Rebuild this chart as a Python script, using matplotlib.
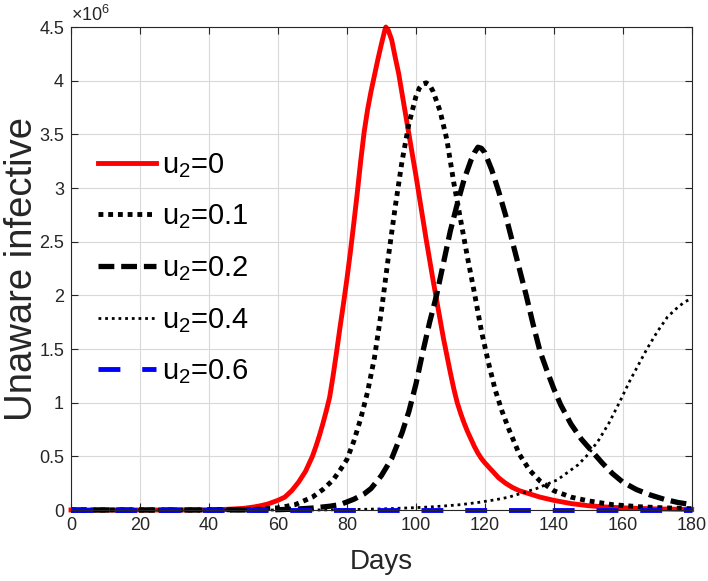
import numpy as np
import matplotlib
matplotlib.use("Agg")
import matplotlib.pyplot as plt
from matplotlib.ticker import FuncFormatter, MultipleLocator

plt.rcParams['font.family'] = ['Liberation Sans', 'DejaVu Sans']
plt.rcParams['mathtext.fontset'] = 'custom'
plt.rcParams['mathtext.rm'] = 'Liberation Sans'

# values (unaware infective, in millions)
days_u0 = [0, 30, 40, 45, 50, 53, 55, 57, 60, 62, 64, 66, 68, 70, 71, 72, 73, 74, 75, 76,
           77, 78, 79, 80, 81, 82, 83, 84, 85, 86, 87, 88, 89, 90, 91, 91.3, 92, 93, 94,
           95, 96, 97, 98, 99, 100, 101, 102, 103, 104, 105, 106, 107, 108, 109, 110, 111,
           112, 113, 114, 115, 116, 117, 118, 119, 120, 122, 124, 126, 128, 130, 133, 136,
           140, 145, 150, 155, 160, 170, 180]
inf_u0 = [0, 0.0, 0.002, 0.006, 0.015, 0.028, 0.04, 0.055, 0.09, 0.12, 0.18, 0.26, 0.36,
          0.5, 0.59, 0.69, 0.8, 0.92, 1.05, 1.25, 1.47, 1.7, 1.92, 2.15, 2.4, 2.67, 2.95,
          3.25, 3.52, 3.73, 3.9, 4.05, 4.2, 4.34, 4.47, 4.5, 4.47, 4.38, 4.22, 4.07, 3.88,
          3.69, 3.5, 3.31, 3.12, 2.92, 2.72, 2.52, 2.33, 2.14, 1.96, 1.78, 1.6, 1.44, 1.28,
          1.13, 1.0, 0.9, 0.81, 0.73, 0.66, 0.59, 0.53, 0.48, 0.44, 0.37, 0.3, 0.25, 0.21,
          0.18, 0.15, 0.12, 0.09, 0.06, 0.04, 0.028, 0.02, 0.01, 0.005]

days_u01 = [0, 40, 50, 55, 60, 65, 70, 73, 76, 78, 80, 82, 84, 86, 88, 90, 92, 94, 96, 98,
            100, 101, 102, 103, 104, 105, 107, 109, 111, 113, 115, 117, 119, 121, 123, 125,
            127, 130, 133, 136, 140, 145, 150, 157, 165, 172, 180]
inf_u01 = [0, 0.0, 0.003, 0.008, 0.02, 0.05, 0.12, 0.19, 0.28, 0.37, 0.47, 0.64, 0.85, 1.1,
           1.42, 1.85, 2.35, 2.82, 3.25, 3.6, 3.85, 3.93, 3.97, 3.98, 3.96, 3.9, 3.72, 3.45,
           3.05, 2.7, 2.35, 2.02, 1.67, 1.38, 1.12, 0.92, 0.75, 0.52, 0.37, 0.27, 0.18,
           0.12, 0.085, 0.05, 0.03, 0.02, 0.012]

days_u02 = [0, 50, 60, 65, 70, 75, 78, 82, 85, 87, 90, 93, 96, 98, 100, 102, 104, 106, 108,
            110, 112, 114, 116, 117, 118, 119, 120, 122, 124, 126, 128, 130, 132, 134, 136,
            138, 140, 142, 145, 148, 151, 154, 157, 160, 164, 168, 172, 176, 180]
inf_u02 = [0, 0.0, 0.003, 0.008, 0.018, 0.035, 0.05, 0.1, 0.15, 0.2, 0.32, 0.48, 0.72, 0.92,
           1.17, 1.47, 1.75, 2.0, 2.3, 2.6, 2.85, 3.08, 3.26, 3.33, 3.38, 3.37, 3.33, 3.17,
           2.97, 2.75, 2.5, 2.25, 2.0, 1.73, 1.48, 1.3, 1.13, 0.98, 0.8, 0.66, 0.55, 0.44,
           0.34, 0.26, 0.19, 0.14, 0.1, 0.07, 0.05]

days_u04 = [0, 70, 80, 90, 100, 105, 110, 113, 118, 123, 127, 131, 135, 138, 141, 144, 147,
            150, 153, 156, 159, 162, 165, 167, 170, 173, 176, 178, 180]
inf_u04 = [0, 0.0, 0.003, 0.01, 0.022, 0.03, 0.042, 0.05, 0.07, 0.095, 0.12, 0.16, 0.2, 0.24,
           0.28, 0.35, 0.42, 0.52, 0.65, 0.81, 1.0, 1.2, 1.38, 1.5, 1.66, 1.8, 1.89, 1.94, 1.97]

days_u06 = [0, 180]
inf_u06 = [0, 0]

labels = ['u$_\\mathregular{2}$=0', 'u$_\\mathregular{2}$=0.1', 'u$_\\mathregular{2}$=0.2',
          'u$_\\mathregular{2}$=0.4', 'u$_\\mathregular{2}$=0.6']

fig = plt.figure(figsize=(7.08, 5.81), dpi=100)
ax = fig.add_axes([0.1003, 0.1222, 0.8767, 0.8313])

ax.plot(days_u0, inf_u0, color=(1, 0, 0), lw=3.5, label=labels[0], clip_on=False,
        solid_joinstyle='round')
ax.plot(days_u01, inf_u01, color='k', lw=3.5, dashes=(1, 1), dash_capstyle='butt',
        label=labels[1], clip_on=False)
ax.plot(days_u02, inf_u02, color='k', lw=3.8, dashes=(3, 1.3), dash_capstyle='butt',
        label=labels[2], clip_on=False)
ax.plot(days_u04, inf_u04, color='k', lw=2.0, dashes=(1, 1.4), dash_capstyle='butt',
        label=labels[3], clip_on=False)
ax.plot(days_u06, inf_u06, color=(0, 0, 1), lw=3.5, dashes=(4.5, 4.5), dash_capstyle='butt',
        label=labels[4], clip_on=False)

ax.set_xlim(0, 180)
ax.set_ylim(0, 4.5)
ax.xaxis.set_major_locator(MultipleLocator(20))
ax.yaxis.set_major_locator(MultipleLocator(0.5))
ax.yaxis.set_major_formatter(FuncFormatter(lambda v, p: '%g' % v))

edge = '#262626'
for s in ax.spines.values():
    s.set_color(edge)
    s.set_linewidth(0.8)
ax.tick_params(direction='in', top=True, right=True, length=5, width=0.8,
               colors=edge, labelsize=13, pad=5)
ax.grid(True, color='#d9d9d9', lw=0.8)
ax.set_axisbelow(True)

ax.text(0.0, 1.005, '$\\times$10$^\\mathregular{6}$', transform=ax.transAxes,
        fontsize=13, color=edge, ha='left', va='bottom')

ax.set_xlabel('Days', fontsize=20, color=edge, labelpad=11)
ax.set_ylabel('Unaware infective', fontsize=27.5, color=edge, labelpad=-1)

ax.legend(loc='upper left', bbox_to_anchor=(0.0435, 0.743), frameon=False, fontsize=21,
          handlelength=2.0, handletextpad=0.2, labelspacing=0.78, borderpad=0,
          borderaxespad=0)

fig.savefig('out.png', dpi=100)
